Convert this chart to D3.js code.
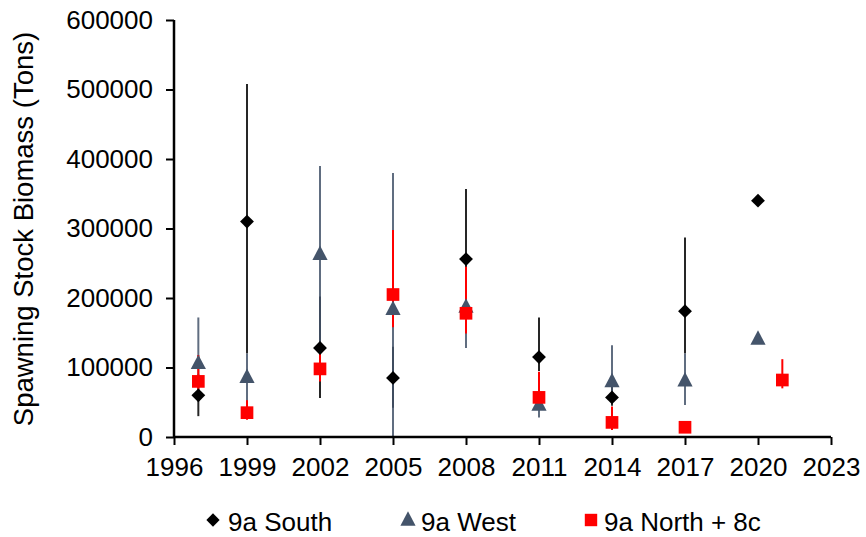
<!DOCTYPE html>
<html>
<head>
<meta charset="utf-8">
<script src="https://cdn.jsdelivr.net/npm/d3@7/dist/d3.min.js"></script>
<style>
  html, body { margin: 0; padding: 0; background: #fff; }
  svg { display: block; }
  text { font-family: "Liberation Sans", Arial, sans-serif; fill: #000; }
</style>
</head>
<body>
<svg id="chart" width="866" height="537"></svg>
<script>
// ---- Data ----
const southYears = [1997, 1999, 2002, 2005, 2008, 2011, 2014, 2017, 2020];
const southValues = [60000, 310000, 128000, 85000, 256000, 115000, 57000, 181000, 340000];
const southLow   = [30000, 120000, 56000, 42000, 200000, 95000, 45000, 120000, null];
const southHigh  = [90000, 508000, 202000, 130000, 357000, 172000, 75000, 287000, null];

const westYears = [1997, 1999, 2002, 2005, 2008, 2011, 2014, 2017, 2020];
const westValues = [106000, 86000, 263000, 184000, 187000, 46000, 80000, 81000, 141000];
const westLow   = [85000, 45000, 110000, 0, 128000, 28000, 50000, 46000, null];
const westHigh  = [172000, 120000, 390000, 380000, 230000, 60000, 132000, 120000, null];

const northYears = [1997, 1999, 2002, 2005, 2008, 2011, 2014, 2017, 2021];
const northValues = [80000, 35000, 98000, 205000, 178000, 57000, 21000, 14000, 82000];
const northLow   = [60000, 25000, 80000, 158000, 149000, 45000, 10000, null, 70000];
const northHigh  = [118000, 53000, 121000, 298000, 245000, 94000, 44000, null, 112000];

const xTicks = [1996, 1999, 2002, 2005, 2008, 2011, 2014, 2017, 2020, 2023];
const yTicks = [0, 100000, 200000, 300000, 400000, 500000, 600000];
const seriesNames = ["9a South", "9a West", "9a North + 8c"];
const yTitle = "Spawning Stock Biomass (Tons)";

// ---- Build ----
const svg = d3.select("#chart");
const x = d3.scaleLinear().domain([1996, 2023]).range([174, 831]);
const y = d3.scaleLinear().domain([0, 600000]).range([437, 20]);

function rows(years, vals, lo, hi) {
  return years.map((yr, i) => ({ year: yr, v: vals[i], lo: lo[i], hi: hi[i] }));
}
const south = rows(southYears, southValues, southLow, southHigh);
const west = rows(westYears, westValues, westLow, westHigh);
const north = rows(northYears, northValues, northLow, northHigh);

const colSouth = "#000000", colWest = "#44546A", colNorth = "#FF0000";

// error bars
function errBars(data, color, opacity, cls) {
  svg.append("g").attr("class", cls)
    .selectAll("line").data(data.filter(d => d.lo !== null)).join("line")
    .attr("x1", d => x(d.year)).attr("x2", d => x(d.year))
    .attr("y1", d => y(d.lo)).attr("y2", d => y(d.hi))
    .attr("stroke", color).attr("stroke-width", 2).attr("stroke-opacity", opacity);
}
errBars(south, colSouth, 0.85, "err-south");
errBars(west, colWest, 0.85, "err-west");
errBars(north, colNorth, 1, "err-north");

// axes
const FS = 26;
const yAxis = d3.axisLeft(y).tickValues(yTicks).tickSize(8).tickPadding(13).tickFormat(d3.format("d"));
const gy = svg.append("g").attr("transform", "translate(174,0)").call(yAxis);
const xAxis = d3.axisBottom(x).tickValues(xTicks).tickSize(8).tickPadding(13).tickFormat(d3.format("d"));
const gx = svg.append("g").attr("transform", "translate(0,437)").call(xAxis);
[gx, gy].forEach(g => {
  g.select(".domain").attr("stroke", "#000").attr("stroke-width", 2.5);
  g.selectAll(".tick line").attr("stroke", "#000").attr("stroke-width", 2);
  g.selectAll(".tick text").attr("font-size", FS).attr("font-family", "Liberation Sans, Arial, sans-serif").attr("fill", "#000");
});
gx.select(".domain").attr("d", "M174,0H831");
gy.select(".domain").attr("d", "M0,20V437");

// y title
svg.append("text")
  .attr("transform", "translate(33,229) rotate(-90)")
  .attr("text-anchor", "middle")
  .attr("font-size", 27.5)
  .text(yTitle);

// custom triangle (slightly taller than equilateral)
const triType = {
  draw(ctx, size) {
    const w = Math.sqrt(size * 2 / 0.95) ;
    const h = w * 0.95;
    ctx.moveTo(0, -h * 0.6);
    ctx.lineTo(w / 2, h * 0.4);
    ctx.lineTo(-w / 2, h * 0.4);
    ctx.closePath();
  }
};

// markers
const sym = {
  south: d3.symbol().type(d3.symbolDiamond2).size(122),
  west: d3.symbol().type(triType).size(110),
  north: d3.symbol().type(d3.symbolSquare2).size(205)
};
function markers(data, path, color, cls) {
  svg.append("g").attr("class", cls)
    .selectAll("path").data(data).join("path")
    .attr("transform", d => `translate(${x(d.year)},${y(d.v)})`)
    .attr("d", path).attr("fill", color);
}
markers(south, sym.south(), colSouth, "m-south");
markers(west, sym.west(), colWest, "m-west");
markers(north, sym.north(), colNorth, "m-north");

// legend
const legend = [
  { name: seriesNames[0], sx: 213, tx: 228, path: d3.symbol().type(d3.symbolDiamond2).size(112)(), color: colSouth },
  { name: seriesNames[1], sx: 408, tx: 421, path: d3.symbol().type(triType).size(110)(), color: colWest },
  { name: seriesNames[2], sx: 591, tx: 604, path: d3.symbol().type(d3.symbolSquare2).size(196)(), color: colNorth }
];
const lg = svg.append("g").attr("class", "legend");
legend.forEach(l => {
  lg.append("path").attr("transform", `translate(${l.sx},520)`).attr("d", l.path).attr("fill", l.color);
  lg.append("text").attr("x", l.tx).attr("y", 531).attr("font-size", FS).text(l.name);
});
</script>
</body>
</html>
